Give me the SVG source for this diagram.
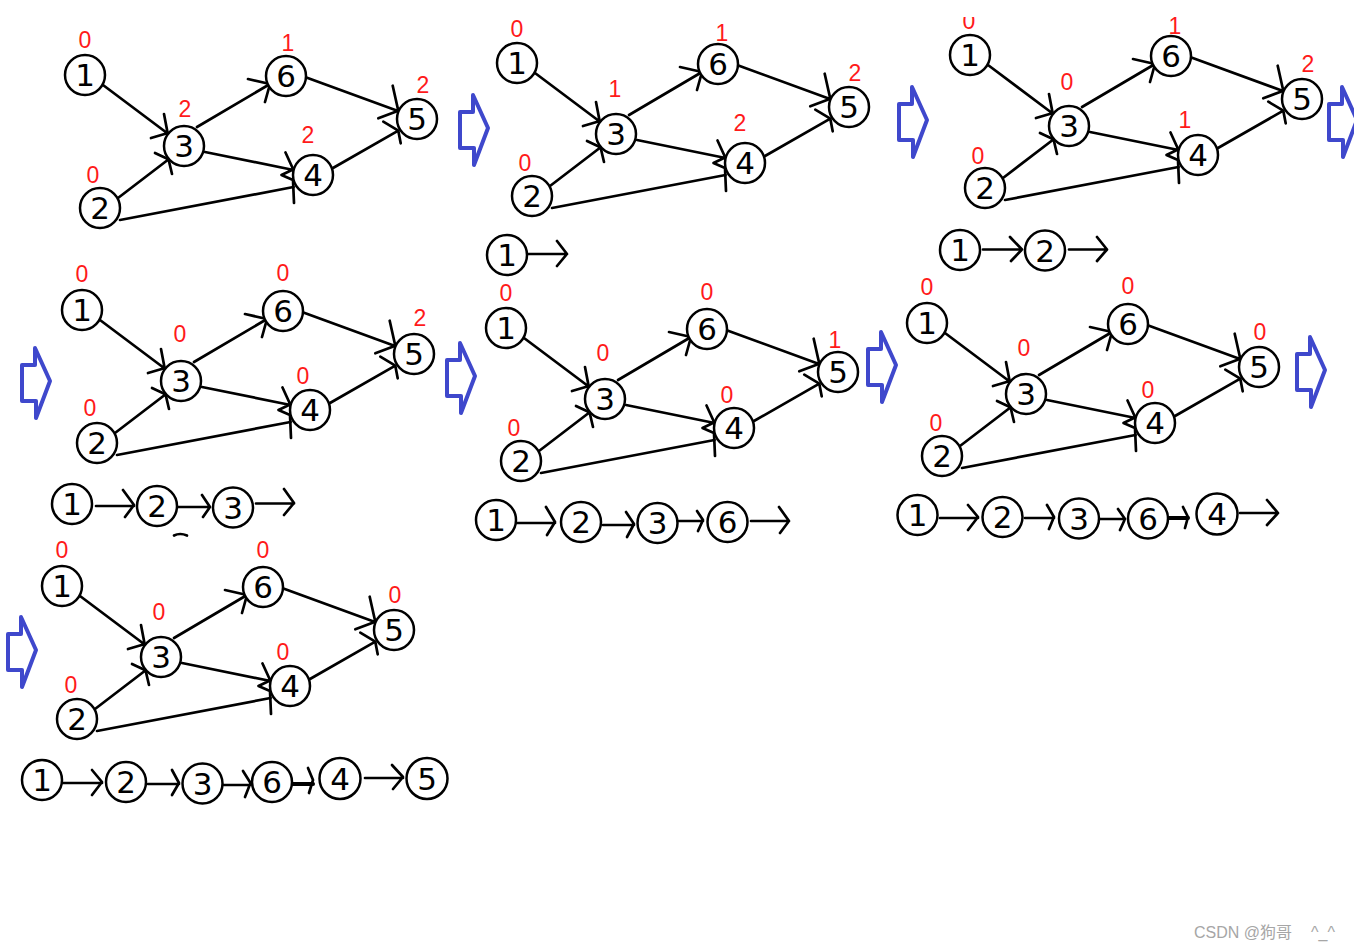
<svg xmlns="http://www.w3.org/2000/svg" xmlns:xlink="http://www.w3.org/1999/xlink" width="1354" height="950" viewBox="0 0 1354 950">
<style>
.bg{fill:#ffffff}
.node circle{fill:#ffffff;stroke:#000;stroke-width:2.5}
.d{font-family:"DejaVu Sans",sans-serif;font-size:31px;text-anchor:middle;fill:#000}
.deg{font-family:"Liberation Sans",Arial,sans-serif;font-size:23px;text-anchor:middle;fill:#ff1a1a}
.e path{fill:none;stroke:#000;stroke-width:2.7;stroke-linecap:round;stroke-linejoin:round}
.wm{font-family:"Liberation Sans","Noto Sans CJK SC",sans-serif;font-size:16px;fill:#a6a6a6}
</style>
<defs>
<g id="edges" fill="none" stroke="#000" stroke-width="2.7" stroke-linecap="round" stroke-linejoin="round">
<path d="M18,10 L82,58 M79,39 L83,60 M66,63 L83,58"/>
<path d="M33,123 L84,84 M70,78 L85,85 M83,82 L87,99"/>
<path d="M112,52 L185,9 M163,4 L185,9 M180,27 L185,9"/>
<path d="M120,77 L208.5,95 M200.5,77.5 L208.5,95 M208,94.5 L196.5,100 L208,105 L209,128"/>
<path d="M35,145 L208.5,112"/>
<path d="M220,2 L313,36 M307.7,10.7 L313.3,35.7 M293.3,43.3 L313.3,35.7"/>
<path d="M248,93 L313.3,55.7 M298.3,46.7 L313.3,55.7 L315.7,68.3"/>
</g>
<path id="barrow" d="M0,17 L13,17 L13,0 L28,33 L14,70 L14,53 L0,53 Z" fill="none" stroke="#3f48cc" stroke-width="4" stroke-linejoin="round"/>
<clipPath id="clip3"><rect x="940" y="17" width="60" height="30"/></clipPath>
</defs>
<rect class="bg" x="0" y="0" width="1354" height="950"/>

<g id="blue-arrows">
<use xlink:href="#barrow" href="#barrow" transform="translate(460,95)"/>
<use xlink:href="#barrow" href="#barrow" transform="translate(899,87)"/>
<use xlink:href="#barrow" href="#barrow" transform="translate(1329,87)"/>
<use xlink:href="#barrow" href="#barrow" transform="translate(22,348)"/>
<use xlink:href="#barrow" href="#barrow" transform="translate(447,343)"/>
<use xlink:href="#barrow" href="#barrow" transform="translate(868,332)"/>
<use xlink:href="#barrow" href="#barrow" transform="translate(1297,337)"/>
<use xlink:href="#barrow" href="#barrow" transform="translate(8,617)"/>
</g>

<g id="connectors" class="e">
<use xlink:href="#edges" href="#edges" transform="translate(85,75)"/>
<use xlink:href="#edges" href="#edges" transform="translate(517,63)"/>
<use xlink:href="#edges" href="#edges" transform="translate(970,55)"/>
<use xlink:href="#edges" href="#edges" transform="translate(82,310)"/>
<use xlink:href="#edges" href="#edges" transform="translate(506,328)"/>
<use xlink:href="#edges" href="#edges" transform="translate(927,323)"/>
<use xlink:href="#edges" href="#edges" transform="translate(62,586)"/>
<path d="M527,254 L567,254 M557,241 L567,254 L557,266"/>
<path d="M983,249.5 L1022,249.5 M1010,237 L1022,249.5 L1011,261"/>
<path d="M1069,249.5 L1107,249.5 M1097,237 L1107,249.5 L1097,261"/>
<path d="M96,506 L134,506 M123,490 L134,505 L125,517"/>
<path d="M177,507 L210,507 M202,495 L210,507 L203,517"/>
<path d="M256,503.5 L294,503.5 M284,489 L294,503 L284,515"/>
<path d="M517,523 L555,523 M546,507 L555,522 L547,535"/>
<path d="M603,525 L634,525 M626,512 L634,524 L627,537"/>
<path d="M679,521 L703,521 M697,511 L703,520 L698,531"/>
<path d="M751,521 L789,521 M779,507 L789,521 L780,533"/>
<path d="M940,518 L978,518 M968,505 L978,517 L968,530"/>
<path d="M1025,518 L1054,518 M1047,505 L1054,517 L1049,529"/>
<path d="M1100,519 L1125,519 M1118,509 L1125,519 L1120,530"/>
<path d="M1168,518 L1188,518" style="stroke-width:4"/>
<path d="M1183,507 L1188,517 L1185,528"/>
<path d="M1240,513 L1278,513 M1267,500 L1278,513 L1267,525"/>
<path d="M63,783 L102,783 M92,770 L102,782 L92,795"/>
<path d="M148,784 L179,784 M172,770 L179,783 L172,795"/>
<path d="M223,785 L250,785 M243,771 L250.5,783 L245,797"/>
<path d="M293,784 L313,784" style="stroke-width:4"/>
<path d="M308,768 L313,780 L309,793"/>
<path d="M365,778 L403,778 M392,765 L403,777 L393,789"/>
<path d="M174,535.5 Q180,532.5 187,535.5"/>
</g>

<!-- Panel 1 -->
<g id="p1-n1" class="node"><circle cx="85" cy="75" r="20"/><text class="d" x="85" y="86">1</text><text class="deg" x="85" y="48">0</text></g>
<g id="p1-n2" class="node"><circle cx="100" cy="208" r="20"/><text class="d" x="100" y="219">2</text><text class="deg" x="93" y="183">0</text></g>
<g id="p1-n3" class="node"><circle cx="184" cy="146" r="20"/><text class="d" x="184" y="157">3</text><text class="deg" x="185" y="117">2</text></g>
<g id="p1-n4" class="node"><circle cx="313" cy="175" r="20"/><text class="d" x="313" y="186">4</text><text class="deg" x="308" y="143">2</text></g>
<g id="p1-n5" class="node"><circle cx="417" cy="119" r="20"/><text class="d" x="417" y="130">5</text><text class="deg" x="423" y="93">2</text></g>
<g id="p1-n6" class="node"><circle cx="286" cy="76" r="20"/><text class="d" x="286" y="87">6</text><text class="deg" x="288" y="51">1</text></g>

<!-- Panel 2 -->
<g id="p2-n1" class="node"><circle cx="517" cy="63" r="20"/><text class="d" x="517" y="74">1</text><text class="deg" x="517" y="37">0</text></g>
<g id="p2-n2" class="node"><circle cx="532" cy="196" r="20"/><text class="d" x="532" y="207">2</text><text class="deg" x="525" y="171">0</text></g>
<g id="p2-n3" class="node"><circle cx="616" cy="134" r="20"/><text class="d" x="616" y="145">3</text><text class="deg" x="615" y="97">1</text></g>
<g id="p2-n4" class="node"><circle cx="745" cy="163" r="20"/><text class="d" x="745" y="174">4</text><text class="deg" x="740" y="130.5">2</text></g>
<g id="p2-n5" class="node"><circle cx="849" cy="107" r="20"/><text class="d" x="849" y="118">5</text><text class="deg" x="855" y="80.5">2</text></g>
<g id="p2-n6" class="node"><circle cx="718" cy="64" r="20"/><text class="d" x="718" y="75">6</text><text class="deg" x="722" y="41">1</text></g>
<g id="p2-s1" class="node"><circle cx="507" cy="255" r="20"/><text class="d" x="507" y="266">1</text></g>

<!-- Panel 3 -->
<g id="p3-n1" class="node"><circle cx="970" cy="55" r="20"/><text class="d" x="970" y="66">1</text><text class="deg" x="969" y="29" clip-path="url(#clip3)">0</text></g>
<g id="p3-n2" class="node"><circle cx="985" cy="188" r="20"/><text class="d" x="985" y="199">2</text><text class="deg" x="978" y="163.5">0</text></g>
<g id="p3-n3" class="node"><circle cx="1069" cy="126" r="20"/><text class="d" x="1069" y="137">3</text><text class="deg" x="1067" y="90">0</text></g>
<g id="p3-n4" class="node"><circle cx="1198" cy="155" r="20"/><text class="d" x="1198" y="166">4</text><text class="deg" x="1185" y="128">1</text></g>
<g id="p3-n5" class="node"><circle cx="1302" cy="99" r="20"/><text class="d" x="1302" y="110">5</text><text class="deg" x="1308" y="72">2</text></g>
<g id="p3-n6" class="node"><circle cx="1171" cy="56" r="20"/><text class="d" x="1171" y="67">6</text><text class="deg" x="1175" y="34">1</text></g>
<g id="p3-s1" class="node"><circle cx="960" cy="250" r="20"/><text class="d" x="960" y="261">1</text></g>
<g id="p3-s2" class="node"><circle cx="1045" cy="250.5" r="20"/><text class="d" x="1045" y="261.5">2</text></g>

<!-- Panel 4 -->
<g id="p4-n1" class="node"><circle cx="82" cy="310" r="20"/><text class="d" x="82" y="321">1</text><text class="deg" x="82" y="282">0</text></g>
<g id="p4-n2" class="node"><circle cx="97" cy="443" r="20"/><text class="d" x="97" y="454">2</text><text class="deg" x="90" y="416">0</text></g>
<g id="p4-n3" class="node"><circle cx="181" cy="381" r="20"/><text class="d" x="181" y="392">3</text><text class="deg" x="180" y="342">0</text></g>
<g id="p4-n4" class="node"><circle cx="310" cy="410" r="20"/><text class="d" x="310" y="421">4</text><text class="deg" x="303" y="384">0</text></g>
<g id="p4-n5" class="node"><circle cx="414" cy="354" r="20"/><text class="d" x="414" y="365">5</text><text class="deg" x="420" y="325.5">2</text></g>
<g id="p4-n6" class="node"><circle cx="283" cy="311" r="20"/><text class="d" x="283" y="322">6</text><text class="deg" x="283" y="280.5">0</text></g>
<g id="p4-s1" class="node"><circle cx="72" cy="504" r="20"/><text class="d" x="72" y="515">1</text></g>
<g id="p4-s2" class="node"><circle cx="157" cy="506" r="20"/><text class="d" x="157" y="517">2</text></g>
<g id="p4-s3" class="node"><circle cx="233" cy="507.5" r="20"/><text class="d" x="233" y="518.5">3</text></g>

<!-- Panel 5 -->
<g id="p5-n1" class="node"><circle cx="506" cy="328" r="20"/><text class="d" x="506" y="339">1</text><text class="deg" x="506" y="300.5">0</text></g>
<g id="p5-n2" class="node"><circle cx="521" cy="461" r="20"/><text class="d" x="521" y="472">2</text><text class="deg" x="514" y="436">0</text></g>
<g id="p5-n3" class="node"><circle cx="605" cy="399" r="20"/><text class="d" x="605" y="410">3</text><text class="deg" x="603" y="361">0</text></g>
<g id="p5-n4" class="node"><circle cx="734" cy="428" r="20"/><text class="d" x="734" y="439">4</text><text class="deg" x="727" y="403">0</text></g>
<g id="p5-n5" class="node"><circle cx="838" cy="372" r="20"/><text class="d" x="838" y="383">5</text><text class="deg" x="835" y="348">1</text></g>
<g id="p5-n6" class="node"><circle cx="707" cy="329" r="20"/><text class="d" x="707" y="340">6</text><text class="deg" x="707" y="300">0</text></g>
<g id="p5-s1" class="node"><circle cx="496" cy="520" r="20"/><text class="d" x="496" y="531">1</text></g>
<g id="p5-s2" class="node"><circle cx="581" cy="522" r="20"/><text class="d" x="581" y="533">2</text></g>
<g id="p5-s3" class="node"><circle cx="657.5" cy="523" r="20"/><text class="d" x="657.5" y="534">3</text></g>
<g id="p5-s4" class="node"><circle cx="727.5" cy="522" r="20"/><text class="d" x="727.5" y="533">6</text></g>

<!-- Panel 6 -->
<g id="p6-n1" class="node"><circle cx="927" cy="323" r="20"/><text class="d" x="927" y="334">1</text><text class="deg" x="927" y="295">0</text></g>
<g id="p6-n2" class="node"><circle cx="942" cy="456" r="20"/><text class="d" x="942" y="467">2</text><text class="deg" x="936" y="430.5">0</text></g>
<g id="p6-n3" class="node"><circle cx="1026" cy="394" r="20"/><text class="d" x="1026" y="405">3</text><text class="deg" x="1024" y="356">0</text></g>
<g id="p6-n4" class="node"><circle cx="1155" cy="423" r="20"/><text class="d" x="1155" y="434">4</text><text class="deg" x="1148" y="398">0</text></g>
<g id="p6-n5" class="node"><circle cx="1259" cy="367" r="20"/><text class="d" x="1259" y="378">5</text><text class="deg" x="1260" y="340">0</text></g>
<g id="p6-n6" class="node"><circle cx="1128" cy="324" r="20"/><text class="d" x="1128" y="335">6</text><text class="deg" x="1128" y="294">0</text></g>
<g id="p6-s1" class="node"><circle cx="917.5" cy="515" r="20"/><text class="d" x="917.5" y="526">1</text></g>
<g id="p6-s2" class="node"><circle cx="1002.5" cy="517" r="20"/><text class="d" x="1002.5" y="528">2</text></g>
<g id="p6-s3" class="node"><circle cx="1079" cy="518.5" r="20"/><text class="d" x="1079" y="529.5">3</text></g>
<g id="p6-s4" class="node"><circle cx="1148" cy="518.5" r="20"/><text class="d" x="1148" y="529.5">6</text></g>
<g id="p6-s5" class="node"><circle cx="1217" cy="514" r="20.5"/><text class="d" x="1217" y="525">4</text></g>

<!-- Panel 7 -->
<g id="p7-n1" class="node"><circle cx="62" cy="586" r="20"/><text class="d" x="62" y="597">1</text><text class="deg" x="62" y="558">0</text></g>
<g id="p7-n2" class="node"><circle cx="77" cy="719" r="20"/><text class="d" x="77" y="730">2</text><text class="deg" x="71" y="693">0</text></g>
<g id="p7-n3" class="node"><circle cx="161" cy="657" r="20"/><text class="d" x="161" y="668">3</text><text class="deg" x="159" y="620">0</text></g>
<g id="p7-n4" class="node"><circle cx="290" cy="686" r="20"/><text class="d" x="290" y="697">4</text><text class="deg" x="283" y="660">0</text></g>
<g id="p7-n5" class="node"><circle cx="394" cy="630" r="20"/><text class="d" x="394" y="641">5</text><text class="deg" x="395" y="603">0</text></g>
<g id="p7-n6" class="node"><circle cx="263" cy="587" r="20"/><text class="d" x="263" y="598">6</text><text class="deg" x="263" y="558">0</text></g>
<g id="p7-s1" class="node"><circle cx="42" cy="780" r="20"/><text class="d" x="42" y="791">1</text></g>
<g id="p7-s2" class="node"><circle cx="126" cy="782" r="20"/><text class="d" x="126" y="793">2</text></g>
<g id="p7-s3" class="node"><circle cx="202.5" cy="783.5" r="20"/><text class="d" x="202.5" y="794.5">3</text></g>
<g id="p7-s4" class="node"><circle cx="272" cy="782" r="20"/><text class="d" x="272" y="793">6</text></g>
<g id="p7-s5" class="node"><circle cx="340" cy="778.5" r="20.5"/><text class="d" x="340" y="789.5">4</text></g>
<g id="p7-s6" class="node"><circle cx="427" cy="778.5" r="20.5"/><text class="d" x="427" y="789.5">5</text></g>

<g id="watermark">
<text class="wm" x="1194" y="938">CSDN @狗哥</text>
<text class="wm" x="1311" y="938">^_^</text>
</g>
</svg>
